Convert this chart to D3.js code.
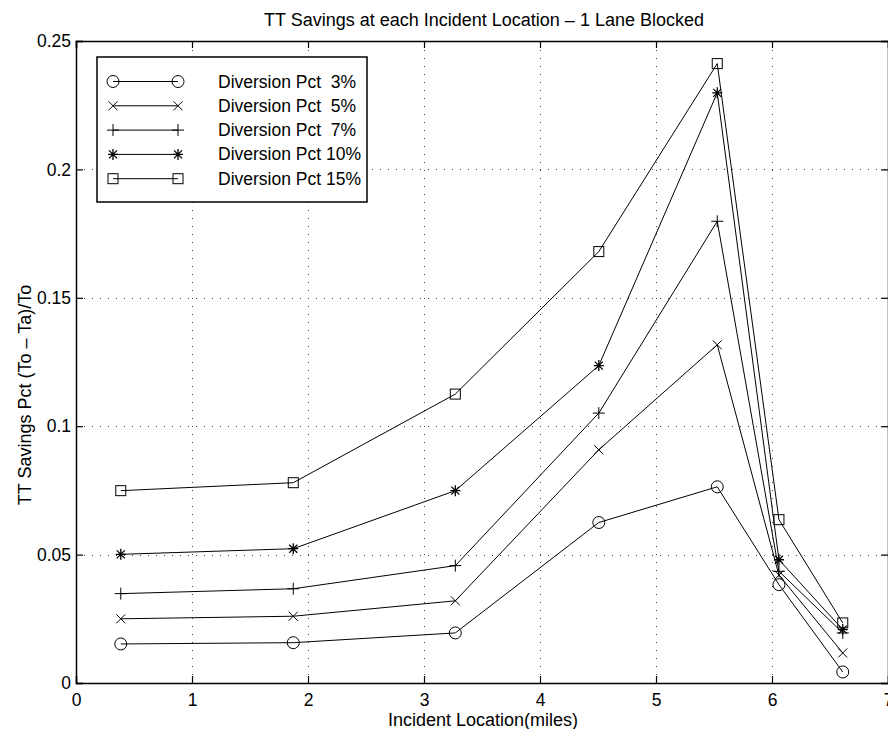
<!DOCTYPE html>
<html>
<head>
<meta charset="utf-8">
<script src="https://cdn.jsdelivr.net/npm/d3@7"></script>
<style>
body{margin:0;background:#fff;}
svg{display:block;font-family:"Liberation Sans",Arial,Helvetica,sans-serif;}
</style>
</head>
<body>
<svg id="chart" width="888" height="729"></svg>
<script>
const locations = [0.386, 1.873, 3.27, 4.507, 5.528, 6.06, 6.61];
const seriesNames = ["Diversion Pct  3%", "Diversion Pct  5%", "Diversion Pct  7%", "Diversion Pct 10%", "Diversion Pct 15%"];
const markerTypes = ["circle", "x", "plus", "star", "square"];
const pct3  = [0.0152, 0.0157, 0.0195, 0.0625, 0.0764, 0.0383, 0.0043];
const pct5  = [0.0250, 0.0260, 0.0320, 0.0908, 0.1317, 0.0420, 0.0117];
const pct7  = [0.0348, 0.0367, 0.0457, 0.1051, 0.1798, 0.0435, 0.0195];
const pct10 = [0.0501, 0.0523, 0.0749, 0.1236, 0.2298, 0.0480, 0.0208];
const pct15 = [0.0749, 0.0780, 0.1125, 0.1680, 0.2412, 0.0636, 0.0234];
const seriesValues = [pct3, pct5, pct7, pct10, pct15];
const xTicks = [0, 1, 2, 3, 4, 5, 6, 7];
const yTicks = [0, 0.05, 0.1, 0.15, 0.2, 0.25];
const yTickLabels = ["0", "0.05", "0.1", "0.15", "0.2", "0.25"];
const titleText = "TT Savings at each Incident Location \u2013 1 Lane Blocked";
const xLabelText = "Incident Location(miles)";
const yLabelText = "TT Savings Pct (To \u2013 Ta)/To";

const svg = d3.select("#chart");
const L = 76, R = 888, T = 41, B = 683;
const x = d3.scaleLinear().domain([0, 7]).range([L, R]);
const y = d3.scaleLinear().domain([0, 0.25]).range([B, T]);
const tickFont = "17.5px";
const labelFont = "18px";

// grid
const grid = svg.append("g").attr("stroke", "#444").attr("stroke-width", 1).attr("stroke-dasharray", "1,7");
grid.selectAll(".gx").data(xTicks.slice(1, -1)).enter().append("line")
  .attr("x1", d => Math.round(x(d)) + 0.5).attr("x2", d => Math.round(x(d)) + 0.5)
  .attr("y1", B).attr("y2", T);
grid.selectAll(".gy").data(yTicks.slice(1, -1)).enter().append("line")
  .attr("y1", d => Math.round(y(d)) + 0.5).attr("y2", d => Math.round(y(d)) + 0.5)
  .attr("x1", L).attr("x2", R);

// axes
const tickLen = 7;
const xAxisB = d3.axisBottom(x).tickValues(xTicks).tickSize(-tickLen).tickPadding(11).tickFormat(d3.format("d"));
const xAxisT = d3.axisTop(x).tickValues(xTicks).tickSize(-tickLen).tickFormat("");
const yAxisL = d3.axisLeft(y).tickValues(yTicks).tickSize(-tickLen).tickPadding(5).tickFormat((d, i) => yTickLabels[i]);
const yAxisR = d3.axisRight(y).tickValues(yTicks).tickSize(-tickLen).tickFormat("");

function styleAxis(g) {
  g.select(".domain").attr("stroke", "#000").attr("stroke-width", 1.5);
  g.selectAll(".tick line").attr("stroke", "#000").attr("stroke-width", 1.2);
  g.selectAll("text").attr("fill", "#000").style("font-size", tickFont).style("font-family", "'Liberation Sans', Arial, sans-serif");
}
svg.append("g").attr("transform", `translate(0,${B})`).call(xAxisB).call(styleAxis);
svg.append("g").attr("transform", `translate(0,${T})`).call(xAxisT).call(styleAxis);
svg.append("g").attr("transform", `translate(${L},0)`).call(yAxisL).call(styleAxis);
svg.append("g").attr("transform", `translate(${R},0)`).call(yAxisR).call(styleAxis);

// marker drawing
function drawMarker(g, type, cx, cy) {
  const s = g.append("g").attr("transform", `translate(${cx},${cy})`).attr("fill", "none").attr("stroke", "#000").attr("stroke-width", 1);
  if (type === "circle") s.append("circle").attr("r", 6).attr("fill", "none");
  else if (type === "x") s.append("path").attr("d", "M-4.5,-4.5L4.5,4.5M-4.5,4.5L4.5,-4.5");
  else if (type === "plus") s.append("path").attr("d", "M-6,0L6,0M0,-6L0,6");
  else if (type === "star") s.append("path").attr("d", "M-5,0L5,0M0,-5.5L0,5.5M-4,-4L4,4M-4,4L4,-4").attr("stroke-width", 1.3);
  else if (type === "square") s.append("rect").attr("x", -5).attr("y", -5).attr("width", 10).attr("height", 10).attr("fill", "none");
}

const line = d3.line().x(d => x(d[0])).y(d => y(d[1]));
const plot = svg.append("g");
seriesValues.forEach((vals, si) => {
  const pts = locations.map((loc, i) => [loc, vals[i]]);
  plot.append("path").datum(pts).attr("d", line).attr("fill", "none").attr("stroke", "#000").attr("stroke-width", 1);
  pts.forEach(p => drawMarker(plot, markerTypes[si], x(p[0]), y(p[1])));
});

// legend
const lg = svg.append("g");
lg.append("rect").attr("x", 97).attr("y", 57).attr("width", 270).attr("height", 145)
  .attr("fill", "#fff").attr("stroke", "#000").attr("stroke-width", 1.5);
seriesNames.forEach((name, i) => {
  const ry = 81.5 + i * 24.3;
  lg.append("line").attr("x1", 113).attr("x2", 178).attr("y1", ry).attr("y2", ry).attr("stroke", "#000").attr("stroke-width", 1);
  drawMarker(lg, markerTypes[i], 113, ry);
  drawMarker(lg, markerTypes[i], 178, ry);
  lg.append("text").attr("x", 218).attr("y", ry + 6).text(name)
    .style("font-size", tickFont).attr("fill", "#000").style("white-space", "pre");
});

// titles
svg.append("text").attr("x", 484).attr("y", 26).attr("text-anchor", "middle").style("font-size", labelFont).text(titleText);
svg.append("text").attr("x", 483).attr("y", 726).attr("text-anchor", "middle").style("font-size", labelFont).text(xLabelText);
svg.append("text").attr("transform", `translate(31,395)rotate(-90)`).attr("text-anchor", "middle").style("font-size", labelFont).text(yLabelText);
</script>
</body>
</html>
